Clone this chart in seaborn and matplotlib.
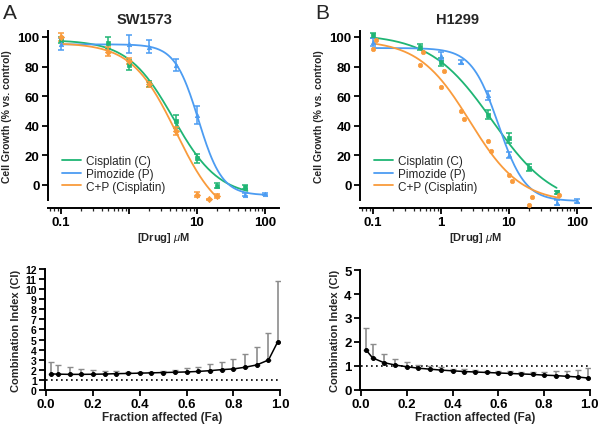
"""
Dose-response curves and combination index plots for SW1573 and H1299.
"""

import numpy as np
import pandas as pd
import matplotlib
matplotlib.use("Agg")
import matplotlib.pyplot as plt
import seaborn as sns

# ---- data ----------------------------------------------------------------
# SW1573 dose-response (mean growth, % vs control, and error)
sw_doses_c = [0.1, 0.5, 1, 2, 5, 10, 20, 50]
sw_growth_c = [98, 96, 81, 68, 43, 18, -0.5, -1.5]
sw_err_c = [2, 4, 3.5, 2, 4.5, 3, 1.5, 1.5]
sw_doses_p = [0.1, 1, 2, 5, 10, 50, 100]
sw_growth_p = [95, 95, 93.5, 81, 47, -6.5, -6]
sw_err_p = [4, 6, 4.5, 4, 6, 1, 0.5]
sw_doses_cp = [0.1, 0.5, 1, 2, 5, 10, 15, 20]
sw_growth_cp = [100, 90, 84, 68, 36.5, -6.5, -9.8, -7.5]
sw_err_cp = [3, 3, 2, 1.5, 2.5, 2, 0.5, 1.5]

# fitted curves: top, bottom, IC50, hill slope, first dose, last dose
sw_fit_c = [98, -8, 4.5, 1.3, 0.1, 55]
sw_fit_p = [95, -7, 10.5, 2.5, 0.1, 100]
sw_fit_cp = [96, -25, 4.94, 1.33, 0.1, 20]

# H1299 dose-response
h_doses_c = [0.1, 0.5, 1, 5, 10, 20, 50]
h_growth_c = [101, 93, 83, 47.5, 31.5, 11.6, -5]
h_err_c = [2, 2, 2.5, 3, 3.5, 2.5, 1]
h_doses_p = [0.1, 1, 2, 5, 10, 50, 100]
h_growth_p = [96.5, 87, 83, 60.5, 20, -12, -10.7]
h_err_p = [2.5, 2.5, 1.5, 3, 2, 1.5, 1.5]
h_doses_cp = [0.1, 0.11, 0.5, 0.55, 1, 1.1, 2, 2.2, 5, 5.5, 10, 11, 20, 22, 55]
h_growth_cp = [92, 97.7, 81, 89.7, 66.4, 76.7, 49.7, 44.7, 29.9, 23, 6.8, 2.5,
               -13.5, -8, -6.8]

h_fit_c = [102, -15, 5.67, 0.955, 0.1, 50]
h_fit_p = [92.5, -11, 7, 2.2, 0.1, 100]
h_fit_cp = [98, -12, 2.66, 1.158, 0.1, 55]

# combination index vs fraction affected
fa = [0.02, 0.05, 0.1, 0.15, 0.2, 0.25, 0.3, 0.35, 0.4, 0.45, 0.5,
      0.55, 0.6, 0.65, 0.7, 0.75, 0.8, 0.85, 0.9, 0.95, 0.99]
sw_ci = [1.58, 1.55, 1.53, 1.53, 1.54, 1.56, 1.6, 1.62, 1.65, 1.68, 1.71,
         1.74, 1.77, 1.82, 1.9, 2.0, 2.07, 2.24, 2.47, 2.96, 4.8]
sw_ci_upper = [2.8, 2.5, 2.3, 2.1, 1.97, 1.87, 1.85, 1.8, 1.72, 1.78, 1.85,
               1.98, 2.14, 2.3, 2.55, 2.8, 3.1, 3.55, 4.25, 5.65, 10.85]
h_ci = [1.68, 1.33, 1.13, 1.03, 0.96, 0.9, 0.86, 0.82, 0.79, 0.76, 0.74,
        0.72, 0.7, 0.68, 0.66, 0.64, 0.61, 0.59, 0.56, 0.53, 0.49]
h_ci_upper = [2.6, 1.9, 1.5, 1.29, 1.16, 1.05, 0.98, 0.93, 0.88, 0.85, 0.82,
              0.8, 0.78, 0.77, 0.76, 0.75, 0.76, 0.78, 0.8, 0.83, 0.9]

series_labels = ["Cisplatin (C)", "Pimozide (P)", "C+P (Cisplatin)"]
sw_xtick_labels = ["0.1", "", "10", "100"]
h_xtick_labels = ["0.1", "1", "10", "100"]

GREEN = "#1fb574"
BLUE = "#4c9cf2"
ORANGE = "#f99b3c"


def hill_curve(fit):
    """Evaluate a four-parameter logistic fit on a log-spaced dose grid."""
    top, bottom, ic50, hill, lo, hi = fit
    doses = np.logspace(np.log10(lo), np.log10(hi), 200)
    growth = bottom + (top - bottom) / (1 + (doses / ic50) ** hill)
    return pd.DataFrame({"dose": doses, "growth": growth})


def style_axes(ax, labelsize=9.5):
    for side in ["left", "bottom"]:
        ax.spines[side].set_linewidth(1.4)
        ax.spines[side].set_color("black")
    ax.tick_params(direction="out", width=1.3, length=4, colors="black",
                   labelsize=labelsize, pad=2)
    for lab in ax.get_xticklabels() + ax.get_yticklabels():
        lab.set_fontweight("bold")


def draw_dose_panel(ax, title, groups, xtick_labels):
    for label, color, marker, doses, growth, err, fit in groups:
        curve = hill_curve(fit)
        sns.lineplot(data=curve, x="dose", y="growth", ax=ax, color=color,
                     lw=1.3, label=label, clip_on=False)
        if err is not None:
            ax.errorbar(doses, growth, yerr=err, fmt="none", ecolor=color,
                        elinewidth=1.1, capsize=2, capthick=1.1, clip_on=False)
        sns.scatterplot(x=doses, y=growth, ax=ax, color=color, marker=marker,
                        s=10, edgecolor=color, linewidth=0.5, clip_on=False,
                        zorder=3)
    ax.set_xscale("log")
    ax.set_xlim(0.065, 160)
    ax.set_ylim(-10, 104)
    ax.set_yticks([0, 20, 40, 60, 80, 100])
    ax.set_xticks([0.1, 1, 10, 100], labels=xtick_labels)
    ax.set_title(title, fontsize=10.5, fontweight="bold", pad=6, x=0.42)
    ax.set_xlabel(r"[Drug] $\mu$M", fontsize=8, fontweight="bold", labelpad=1)
    ax.set_ylabel("Cell Growth (% vs. control)", fontsize=7.5,
                  fontweight="bold", labelpad=4)
    sns.despine(ax=ax, offset={"left": 0, "bottom": 6})
    style_axes(ax)
    ax.tick_params(which="minor", direction="out", width=0.9, length=2.5)
    ax.legend(loc="lower left", bbox_to_anchor=(0.03, 0.0), frameon=False,
              fontsize=8.5, handlelength=1.6, handletextpad=0.45,
              labelspacing=0.05, borderaxespad=0.2)


def draw_ci_panel(ax, ci, upper, ymax, ylabelsize):
    lower_err = np.zeros(len(fa))
    upper_err = np.array(upper) - np.array(ci)
    ax.errorbar(fa, ci, yerr=[lower_err, upper_err], fmt="none",
                ecolor="#8c8c8c", elinewidth=1.2, capsize=2, capthick=1.0,
                zorder=2)
    sns.lineplot(x=fa, y=ci, ax=ax, color="black", lw=1.1, marker="o",
                 markersize=2.8, markeredgecolor="black", zorder=3)
    ax.plot([0, 1], [1, 1], color="black", lw=1.2, ls=(0, (1, 2)), zorder=1)
    ax.set_xlim(-0.005, 1.0)
    ax.set_ylim(0, ymax)
    ax.set_yticks(range(0, ymax + 1))
    ax.set_xticks([0.0, 0.2, 0.4, 0.6, 0.8, 1.0])
    ax.set_xticklabels(["0.0", "0.2", "0.4", "0.6", "0.8", "1.0"])
    ax.set_xlabel("Fraction affected (Fa)", fontsize=8.5, fontweight="bold",
                  labelpad=1)
    ax.set_ylabel("Combination Index (CI)", fontsize=8, fontweight="bold",
                  labelpad=3)
    sns.despine(ax=ax)
    style_axes(ax, labelsize=9.5)
    ax.tick_params(axis="y", labelsize=ylabelsize, pad=2)
    for lab in ax.get_yticklabels():
        lab.set_fontweight("bold")


def main():
    sns.set_theme(style="ticks")
    plt.rcParams["font.family"] = ["Liberation Sans", "DejaVu Sans"]
    plt.rcParams["mathtext.fontset"] = "custom"
    plt.rcParams["mathtext.it"] = "Liberation Sans:italic"

    fig = plt.figure(figsize=(6.0, 4.27), dpi=100)
    ax_a = fig.add_axes([0.080, 0.530, 0.385, 0.395])
    ax_b = fig.add_axes([0.600, 0.530, 0.385, 0.395])
    ax_c = fig.add_axes([0.075, 0.085, 0.392, 0.282])
    ax_d = fig.add_axes([0.600, 0.085, 0.383, 0.280])

    draw_dose_panel(ax_a, "SW1573", [
        (series_labels[0], GREEN, "s", sw_doses_c, sw_growth_c, sw_err_c, sw_fit_c),
        (series_labels[1], BLUE, "^", sw_doses_p, sw_growth_p, sw_err_p, sw_fit_p),
        (series_labels[2], ORANGE, "D", sw_doses_cp, sw_growth_cp, sw_err_cp, sw_fit_cp),
    ], sw_xtick_labels)
    draw_dose_panel(ax_b, "H1299", [
        (series_labels[0], GREEN, "s", h_doses_c, h_growth_c, h_err_c, h_fit_c),
        (series_labels[1], BLUE, "^", h_doses_p, h_growth_p, h_err_p, h_fit_p),
        (series_labels[2], ORANGE, "o", h_doses_cp, h_growth_cp, None, h_fit_cp),
    ], h_xtick_labels)

    draw_ci_panel(ax_c, sw_ci, sw_ci_upper, 12, 7.5)
    draw_ci_panel(ax_d, h_ci, h_ci_upper, 5, 9.5)

    fig.text(0.005, 0.955, "A", fontsize=15)
    fig.text(0.525, 0.955, "B", fontsize=15)

    fig.savefig("out.png", dpi=100)
    plt.close(fig)


if __name__ == "__main__":
    main()
